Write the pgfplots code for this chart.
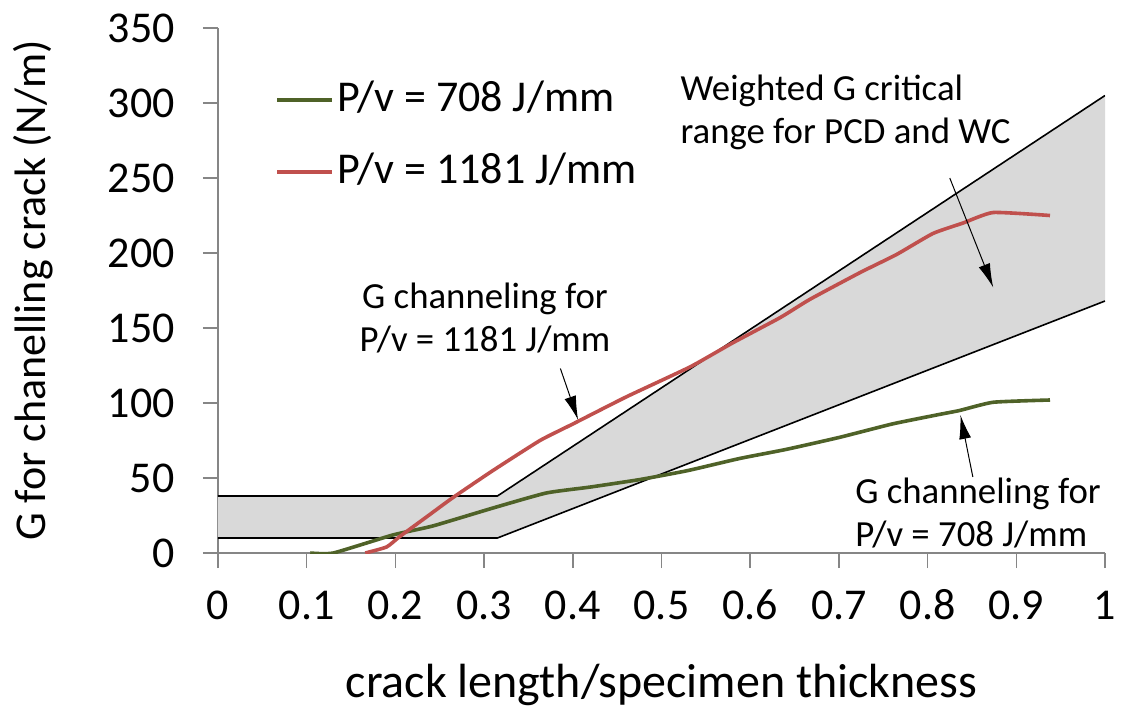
\documentclass[border=0pt]{standalone}
\usepackage{pgfplots}
\pgfplotsset{compat=1.18}
\usepackage{fontspec}
\setmainfont{Carlito}
\usetikzlibrary{arrows.meta}
\definecolor{grn}{HTML}{4F6228}
\definecolor{rd}{HTML}{C0504D}
\definecolor{band}{HTML}{D9D9D9}
\definecolor{axgray}{HTML}{868686}
\newcommand{\bigfont}{\fontsize{22}{26}\selectfont}
\newcommand{\annfont}{\fontsize{18.4}{21.5}\selectfont}

\begin{document}
\begin{tikzpicture}
\begin{axis}[
  scale only axis, width=443.5pt, height=262.5pt,
  xmin=0, xmax=1, ymin=0, ymax=350,
  axis x line=bottom, axis y line=left,
  axis line style={axgray, line width=1pt, -},
  tick style={axgray, line width=0.8pt},
  tick align=outside, major tick length=7.5pt,
  xtick={0,0.1,0.2,0.3,0.4,0.5,0.6,0.7,0.8,0.9,1},
  xticklabels={0,0.1,0.2,0.3,0.4,0.5,0.6,0.7,0.8,0.9,1},
  ytick={0,50,100,150,200,250,300,350},
  /pgf/number format/assume math mode=true,
  ticklabel style={font=\bigfont, text=black, inner sep=0pt},
  yticklabel style={anchor=east, xshift=-14pt},
  xticklabel style={anchor=base, yshift=-25.5pt},
  xlabel={crack length/specimen thickness},
  ylabel={G for chanelling crack (N/m)},
  xlabel style={font=\fontsize{24}{28}\selectfont, inner sep=0pt, at={(axis description cs:0.5,0)}, anchor=base, yshift=-72pt},
  ylabel style={font=\bigfont, inner sep=0pt, at={(axis description cs:0,0.5)}, anchor=center, yshift=92.5pt},
  legend cell align=left,
  legend style={draw=none, fill=none, at={(axis cs:0.0643,278)}, anchor=west,
    font=\bigfont, inner xsep=0pt,
    nodes={text height=16pt, text depth=5pt, inner sep=0pt},
    row sep=15pt,
    /tikz/every odd column/.append style={column sep=1.5pt}},
  legend image code/.code={\draw[#1] (0pt,0pt) -- (27.5pt,0pt);},
]
% shaded range
\addplot[fill=band, draw=none, forget plot] coordinates {
  (0,10) (0.315,10) (1,168) (1,305) (0.315,38) (0,38)
} -- cycle;
\addplot[black, line width=0.8pt, forget plot] coordinates {(0,38) (0.315,38) (1,305)};
\addplot[black, line width=0.8pt, forget plot] coordinates {(0,10) (0.315,10) (1,168)};

\addplot[grn, line width=1.8pt, smooth, tension=0.3] coordinates {
  (0.104,0) (0.13,0) (0.197,12) (0.242,18) (0.31,30) (0.37,40) (0.42,44)
  (0.476,49) (0.53,55) (0.588,63) (0.64,69) (0.70,77) (0.76,86) (0.81,92)
  (0.836,95) (0.874,100.5) (0.938,102)
};
\addlegendentry{P/v = 708 J/mm}

\addplot[rd, line width=1.8pt, smooth, tension=0.3] coordinates {
  (0.166,0) (0.19,4) (0.205,11) (0.235,24) (0.265,37) (0.31,55) (0.363,75)
  (0.4,86) (0.46,104) (0.532,124) (0.58,140) (0.634,157) (0.667,169)
  (0.724,187) (0.765,199) (0.806,213) (0.84,220) (0.874,227) (0.938,225)
};
\addlegendentry{P/v = 1181 J/mm}

\node[anchor=north west, font=\annfont, align=left, inner sep=0pt] at (axis cs:0.521,319)
  {Weighted G critical\\range for PCD and WC};
\node[anchor=north, font=\annfont, align=center, inner sep=0pt] at (axis cs:0.301,180)
  {G channeling for\\P/v = 1181 J/mm};
\node[anchor=north west, font=\annfont, align=left, inner sep=0pt] at (axis cs:0.718,50)
  {G channeling for\\P/v = 708 J/mm};

\draw[-{Latex[length=12pt,width=6pt]}, line width=0.5pt] (axis cs:0.825,250) -- (axis cs:0.874,177);
\draw[-{Latex[length=12pt,width=6pt]}, line width=0.5pt] (axis cs:0.386,123) -- (axis cs:0.406,88.7);
\draw[-{Latex[length=12pt,width=6pt]}, line width=0.5pt] (axis cs:0.851,50.7) -- (axis cs:0.837,92);

\coordinate (O) at (axis cs:0,0);
\coordinate (TR) at (axis cs:1,350);
\end{axis}
\pgfresetboundingbox
\path ([shift={(-109pt,-78pt)}]O) rectangle ([shift={(8pt,14pt)}]TR);
\end{tikzpicture}
\end{document}
